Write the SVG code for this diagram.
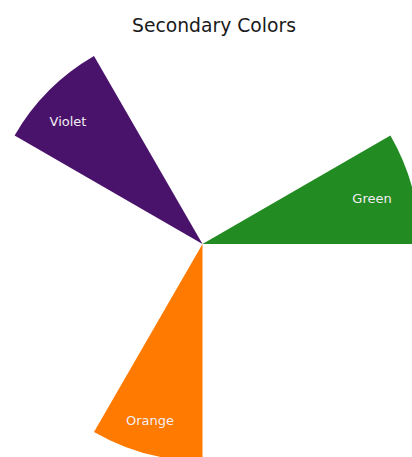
<svg xmlns="http://www.w3.org/2000/svg" width="412" height="457" viewBox="0 0 412 457">
  <style>
    .title { font-family: Tahoma, "DejaVu Sans", sans-serif; font-size: 20px; fill: #1a1a1a; text-anchor: middle; }
    .label { font-family: Tahoma, "DejaVu Sans", sans-serif; font-size: 13px; fill: #f2eef4; text-anchor: middle; }
  </style>
  <rect width="412" height="457" fill="#ffffff"/>
  <text class="title" x="214" y="32" textLength="164" lengthAdjust="spacingAndGlyphs">Secondary Colors</text>
  <!-- wedges share a centre at (202.5, 244), radius 217 -->
  <g id="green">
    <path d="M202.5,244 L419.5,244 A217,217 0 0 0 390.4,135.5 Z" fill="#228b22"/>
    <text class="label" x="372" y="203">Green</text>
  </g>
  <g id="orange">
    <path d="M202.5,244 L202.5,461 A217,217 0 0 1 94,431.9 Z" fill="#ff7a00"/>
    <text class="label" x="150" y="425">Orange</text>
  </g>
  <g id="violet">
    <path d="M202.5,244 L14.6,135.5 A217,217 0 0 1 94,56.1 Z" fill="#4a136b"/>
    <text class="label" x="68" y="126">Violet</text>
  </g>
</svg>
